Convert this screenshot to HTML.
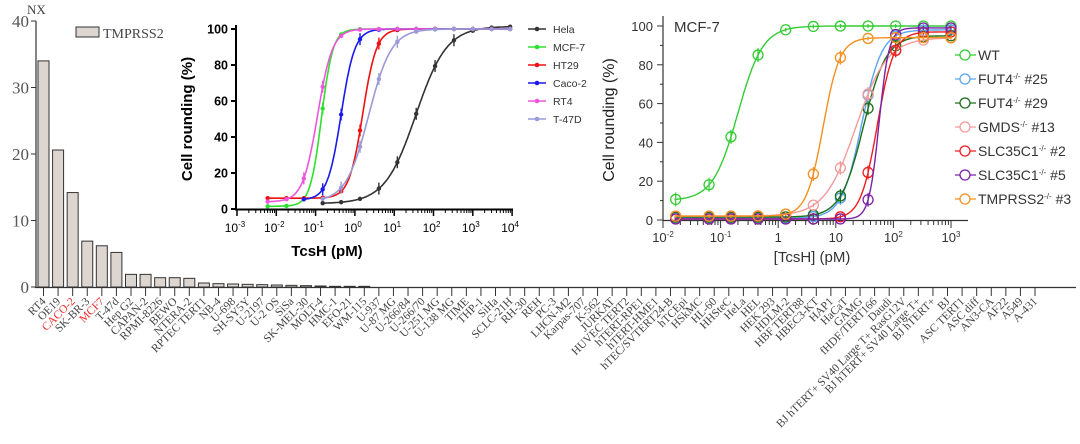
<!DOCTYPE html>
<html><head><meta charset="utf-8"><style>
body{margin:0;background:#fff;}
svg{display:block;}
</style></head><body>
<svg id="s" width="1080" height="444" xmlns="http://www.w3.org/2000/svg"></svg>
<script>
const s=document.getElementById('s');let h='';
const serif='font-family="Liberation Serif, DejaVu Serif, serif"';
const sans='font-family="Liberation Sans, Arial, sans-serif"';
// ---- bar chart
const y0=287,py=6.65;
h+=`<line x1="36" y1="21" x2="36" y2="288" stroke="#333" stroke-width="1.2"/>`;
h+=`<line x1="35" y1="287.5" x2="1076" y2="287.5" stroke="#333" stroke-width="1.2"/>`;
for(let v=0;v<=40;v+=10){const y=y0-v*py;h+=`<line x1="31" y1="${y}" x2="36" y2="${y}" stroke="#333"/><text x="29" y="${y+6}" ${serif} font-size="17" fill="#555" text-anchor="end">${v}</text>`;}
h+=`<text x="27" y="14" ${serif} font-size="13" fill="#444">NX</text>`;
h+=`<rect x="76" y="27" width="23" height="10" fill="#ddd6d0" stroke="#333"/><text x="103" y="38" ${serif} font-size="14" fill="#444">TMPRSS2</text>`;
const labels=["RT4","OE19","CACO-2","SK-BR-3","MCF7","T-47d","Hep G2","CAPAN-2","RPMI-8226","BEWO","NTERA-2","RPTEC TERT1","NB-4","U-698","SH-SY5Y","U-2197","U-2 OS","SiSa","SK-MEL-30","MOLT-4","HMC-1","EFO-21","WM-115","U-937","U-87 MG","U-266/84","U-266/70","U-251 MG","U-138 MG","TIME","THP-1","SiHa","SCLC-21H","RH-30","REH","PC-3","LHCN-M2","Karpas-707","K-562","JURKAT","HUVEC TERT2","hTERT-RPE1","hTERT-HME1","hTEC/SVTERT24-B","hTCEpi","HSkMC","HL-60","HHSteC","HeLa","HEL","HEK 293","HDLM-2","HBF TERT88","HBEC3-KT","HAP1","HaCaT","GAMG","fHDF/TERT166","Daudi","BJ hTERT+ SV40 Large T+ RasG12V","BJ hTERT+ SV40 Large T+","BJ hTERT+","BJ","ASC TERT1","ASC diff","AN3-CA","AF22","A549","A-431"];
const vals=[34,20.6,14.2,6.9,6.2,5.2,1.9,1.9,1.4,1.4,1.3,0.6,0.5,0.45,0.4,0.35,0.3,0.25,0.2,0.15,0.1,0.1,0.1];
const dx=(1035-43.5)/68;
labels.forEach((l,i)=>{const x=43.5+i*dx;const v=vals[i]||0;
 if(v>0)h+=`<rect x="${x-5.5}" y="${y0-v*py}" width="11" height="${v*py}" fill="#ddd6d0" stroke="#333" stroke-width="1"/>`;
 h+=`<line x1="${x}" y1="288" x2="${x}" y2="296" stroke="#333"/>`;
 const red=(i==2||i==4)?'#f03030':'#444';
 h+=`<text transform="translate(${x+3},302) rotate(-45)" ${serif} font-size="11.5" fill="${red}" text-anchor="end">${l}</text>`;});
// ---- sigmoid helper
function sig(lx,ec,b,t,n){return b+(t-b)/(1+Math.pow(10,(ec-lx)*n));}
function curve(X,Y,lmin,lmax,p,col,w){let d='';for(let k=0;k<=200;k++){const lx=lmin+(lmax-lmin)*k/200;d+=(k?'L':'M')+X(lx).toFixed(1)+','+Y(sig(lx,...p)).toFixed(1);}return `<path d="${d}" fill="none" stroke="${col}" stroke-width="${w}"/>`;}
// ---- inset 1
{const X=l=>237+(l+3)*39.3, Y=v=>209-v*1.8;
h+=`<rect x="225" y="20" width="300" height="195" fill="#fff"/>`;
h+=`<line x1="236" y1="25" x2="236" y2="210" stroke="#000" stroke-width="2"/><line x1="235" y1="209.5" x2="513" y2="209.5" stroke="#000" stroke-width="2"/>`;
for(let v=0;v<=100;v+=20){h+=`<line x1="231" y1="${Y(v)}" x2="236" y2="${Y(v)}" stroke="#000" stroke-width="2"/><text x="228" y="${Y(v)+4.5}" ${sans} font-weight="bold" font-size="12.5" text-anchor="end">${v}</text>`;}
for(let d=-3;d<=4;d++){h+=`<line x1="${X(d)}" y1="210" x2="${X(d)}" y2="216" stroke="#000" stroke-width="1.5"/><text x="${X(d)-2}" y="232" ${sans} font-size="12" text-anchor="middle">10<tspan dy="-5" font-size="8">${d}</tspan></text>`;
 if(d<4)for(let m=2;m<10;m++){const xx=X(d+Math.log10(m));h+=`<line x1="${xx}" y1="210" x2="${xx}" y2="213" stroke="#000"/>`;}}
h+=`<text x="327" y="256" ${sans} font-weight="bold" font-size="15" text-anchor="middle">TcsH (pM)</text>`;
h+=`<text transform="translate(192,119) rotate(-90)" ${sans} font-weight="bold" font-size="15" text-anchor="middle">Cell rounding (%)</text>`;
const S=[["Hela","#333",[1.55,3,101.5,1.1],-0.8],["MCF-7","#2ee02e",[-0.85,1.5,100,3],-2.2],["HT29","#ee1111",[0.2,6,100,2.5],-2.2],["Caco-2","#1a1aee",[-0.35,5,100,2.5],-1.3],["RT4","#ee55dd",[-0.95,4,100,2.3],-2.2],["T-47D","#9a9ad8",[0.35,4,100,1.5],-0.8]];
const pts=[-2.22,-1.74,-1.3,-0.82,-0.35,0.13,0.61,1.08,1.56,2.04,2.52,3,3.48,3.95];
S.forEach((q,i)=>{h+=curve(X,Y,q[3],3.95,q[2],q[1],1.6);
 pts.forEach(p=>{if(p<q[3]-0.1)return;const v=sig(p,...q[2]);const e=(v>10&&v<95)?6:2;h+=`<line x1="${X(p)}" y1="${Y(v)-e}" x2="${X(p)}" y2="${Y(v)+e}" stroke="${q[1]}" stroke-width="1.4"/><circle cx="${X(p)}" cy="${Y(v)}" r="2.2" fill="${q[1]}"/>`;});
 const ly=29+i*18;h+=`<line x1="528" y1="${ly}" x2="546" y2="${ly}" stroke="${q[1]}" stroke-width="1.5"/><circle cx="537" cy="${ly}" r="2.3" fill="${q[1]}"/><text x="553" y="${ly+4}" ${sans} font-size="10.5" fill="#333">${q[0]}</text>`;});}
// ---- inset 2
{const X=l=>663+(l+2)*57.6, Y=v=>220-v*1.94;
h+=`<line x1="663" y1="16" x2="663" y2="221" stroke="#333" stroke-width="1.2"/><line x1="663" y1="220.5" x2="968" y2="220.5" stroke="#333" stroke-width="1.2"/>`;
for(let v=0;v<=100;v+=20){h+=`<line x1="657" y1="${Y(v)}" x2="663" y2="${Y(v)}" stroke="#333"/><text x="653" y="${Y(v)+5}" ${sans} font-size="13" fill="#333" text-anchor="end">${v}</text>`;}
for(let v=10;v<=90;v+=20)h+=`<line x1="660" y1="${Y(v)}" x2="663" y2="${Y(v)}" stroke="#333"/>`;
const dl=["10<tspan dy='-5' font-size='8'>-2</tspan>","10<tspan dy='-5' font-size='8'>-1</tspan>","1","10","10<tspan dy='-5' font-size='8'>2</tspan>","10<tspan dy='-5' font-size='8'>3</tspan>"];
for(let d=-2;d<=3;d++){h+=`<line x1="${X(d)}" y1="221" x2="${X(d)}" y2="228" stroke="#333"/><text x="${X(d)}" y="242" ${sans} font-size="13" fill="#333" text-anchor="middle">${dl[d+2]}</text>`;
 if(d<3)for(let m=2;m<10;m++){const xx=X(d+Math.log10(m));h+=`<line x1="${xx}" y1="221" x2="${xx}" y2="225" stroke="#333"/>`;}}
h+=`<text x="812" y="262" ${sans} font-size="15" fill="#333" text-anchor="middle">[TcsH] (pM)</text>`;
h+=`<text transform="translate(614,120) rotate(-90)" ${sans} font-size="16" fill="#222" text-anchor="middle">Cell rounding (%)</text>`;
h+=`<text x="674" y="32" ${sans} font-size="15" fill="#333">MCF-7</text>`;
const S=[["WT","#33cc33",[-0.7,10,100,2]],["FUT4<tspan dy='-5' font-size='8'>-/-</tspan><tspan dy='5'> #25</tspan>","#5aa5f0",[1.45,1,98,2.5]],["FUT4<tspan dy='-5' font-size='8'>-/-</tspan><tspan dy='5'> #29</tspan>","#1e6e1e",[1.48,1.5,95,2.2]],["GMDS<tspan dy='-5' font-size='8'>-/-</tspan><tspan dy='5'> #13</tspan>","#f49a9a",[1.35,2,94,1.6]],["SLC35C1<tspan dy='-5' font-size='8'>-/-</tspan><tspan dy='5'> #2</tspan>","#ee1f1f",[1.72,0.5,97,3]],["SLC35C1<tspan dy='-5' font-size='8'>-/-</tspan><tspan dy='5'> #5</tspan>","#7a22a8",[1.75,0.5,99,5]],["TMPRSS2<tspan dy='-5' font-size='8'>-/-</tspan><tspan dy='5'> #3</tspan>","#f39020",[0.78,2,94,3]]];
const pts=[-1.78,-1.2,-0.82,-0.35,0.13,0.61,1.08,1.56,2.04,2.52,3];
S.forEach((q,i)=>{h+=curve(X,Y,-1.8,3,q[2],q[1],1.4);
 pts.forEach(p=>{const v=sig(p,...q[2]);const e=(v>8&&v<92)?7:2;h+=`<line x1="${X(p)}" y1="${Y(v)-e}" x2="${X(p)}" y2="${Y(v)+e}" stroke="${q[1]}" stroke-width="1.2"/><circle cx="${X(p)}" cy="${Y(v)}" r="5" fill="none" stroke="${q[1]}" stroke-width="1.3"/>`;});
 const ly=55+i*24;h+=`<line x1="955" y1="${ly}" x2="976" y2="${ly}" stroke="${q[1]}" stroke-width="1.3"/><circle cx="965" cy="${ly}" r="5" fill="#fff" stroke="${q[1]}" stroke-width="1.3"/><text x="978" y="${ly+5}" ${sans} font-size="14" fill="#333">${q[0]}</text>`;});}
s.innerHTML=h;
</script>
</body></html>
